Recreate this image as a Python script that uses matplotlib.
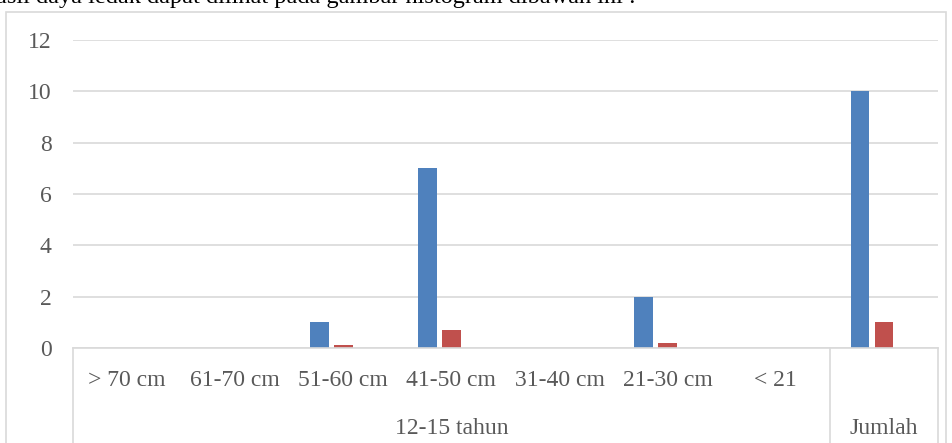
import matplotlib
matplotlib.use('Agg')
import matplotlib.pyplot as plt
from matplotlib.patches import Rectangle
import numpy as np

categories = ['> 70 cm', '61-70 cm', '51-60 cm', '41-50 cm', '31-40 cm', '21-30 cm', '< 21', '']
groups = [('12-15 tahun', 0, 6), ('Jumlah', 7, 7)]
blue_vals = [0, 0, 1, 7, 0, 2, 0, 10]
red_vals = [0, 0, 0.1, 0.7, 0, 0.2, 0, 1]
third_vals = [0, 0, 0, 0, 0, 0, 0, 0]
yticks = [0, 2, 4, 6, 8, 10, 12]

plt.rcParams['font.family'] = ['Liberation Serif', 'DejaVu Serif']
TXT = '#595959'
GRID = '#D9D9D9'
FS = 17

fig = plt.figure(figsize=(9.53, 4.43), dpi=100)
W, H = 953, 443

# outer chart border (runs off the bottom of the crop)
fig.patches.append(Rectangle((6 / W, -0.05), (946 - 6) / W, (H - 12) / H + 0.05,
                             transform=fig.transFigure, fill=False, edgecolor=GRID, lw=1.2))

# leftover document text at the top, mostly cut off
fig.text(-0.004, 1.0 + 13 / H, 'asil daya ledak dapat dilihat pada gambar histogram dibawah ini :',
         fontsize=17.5, color='black', ha='left', va='top')

ax = fig.add_axes([73 / W, (H - 348) / H, (938 - 73) / W, (348 - 40) / H])
x = np.arange(len(categories))
w = 0.174
step = w * 1.27
ax.bar(x - step, blue_vals, width=w, color='#4F81BD')
ax.bar(x, red_vals, width=w, color='#C0504D')
ax.bar(x + step, third_vals, width=w, color='#9BBB59', lw=0)

ax.set_xlim(-0.5, len(categories) - 0.5)
ax.set_ylim(0, 12)
ax.set_yticks(yticks)
ax.tick_params(axis='y', length=0, pad=15.5, labelsize=FS, labelcolor=TXT)
ax.set_xticks([])
for s in ax.spines.values():
    s.set_visible(False)
ax.grid(axis='y', color=GRID, lw=1.2)
ax.set_axisbelow(True)

tr = ax.get_xaxis_transform()
ax.plot([-0.5, 7.5], [0, 0], transform=tr, color=GRID, lw=1.2, clip_on=False)
for xv in [-0.5, 6.5, 7.5]:
    ax.plot([xv, xv], [0, -0.35], transform=tr, color=GRID, lw=1.2, clip_on=False)

for i, c in enumerate(categories):
    ax.text(i, -0.106, c, transform=tr, ha='center', va='center', fontsize=FS, color=TXT)
for name, a, b in groups:
    ax.text((a + b) / 2, -0.26, name, transform=tr, ha='center', va='center', fontsize=FS, color=TXT)

fig.savefig('out.png', dpi=100)
